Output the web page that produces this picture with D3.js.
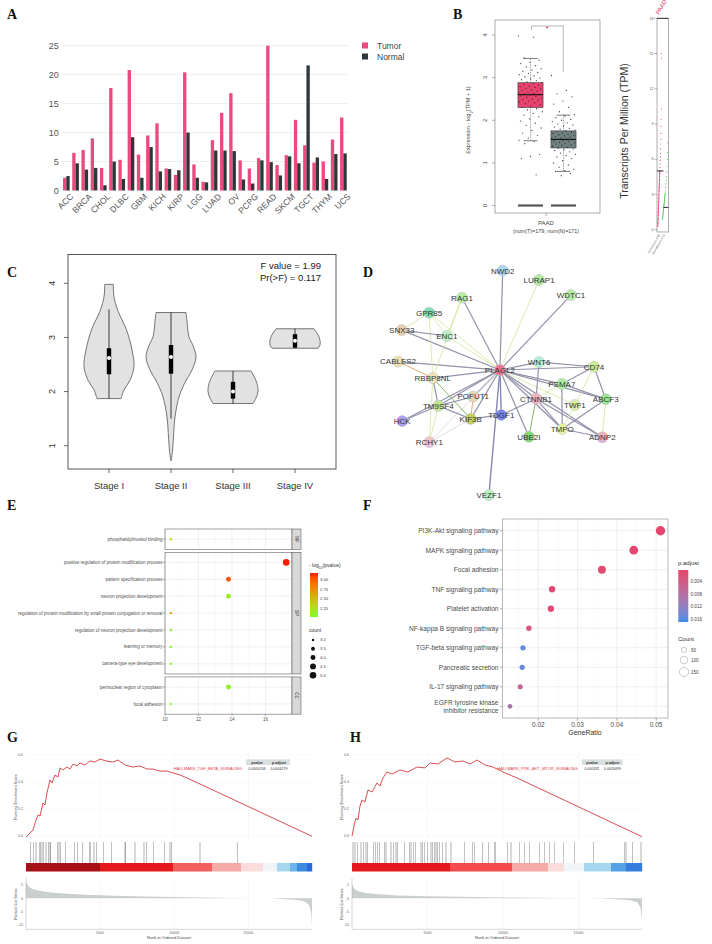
<!DOCTYPE html>
<html>
<head>
<meta charset="utf-8">
<script src="https://cdn.jsdelivr.net/npm/d3@7"></script>
<style>
body { margin: 0; background: #fff; }
svg { display: block; font-family: "Liberation Sans", Arial, sans-serif; }
</style>
</head>
<body>
<svg width="712" height="944"></svg>
<script>
// ---------------- data ----------------
// A: PLAGL2 expression across TCGA
var cancers = ["ACC","BLCA","BRCA","CESC","CHOL","COAD","DLBC","ESCA","GBM","HNSC","KICH","KIRC","KIRP","LAML","LGG","LIHC","LUAD","LUSC","OV","PAAD","PCPG","PRAD","READ","SARC","SKCM","STAD","TGCT","THCA","THYM","UCEC","UCS"];
var tumorTPM = [2.2, 6.5, 7.0, 9.0, 3.9, 17.7, 5.3, 20.8, 6.2, 9.5, 11.6, 3.8, 2.7, 20.4, 4.5, 1.5, 8.7, 13.4, 16.8, 5.2, 3.8, 5.6, 25.0, 4.4, 6.1, 12.2, 7.8, 4.8, 5.0, 8.8, 12.6];
var normalTPM = [2.5, 4.7, 3.6, 3.9, 0.9, 5.0, 2.0, 9.2, 2.2, 7.5, 3.3, 3.7, 3.5, 10.0, 2.2, 1.4, 6.9, 6.9, 6.8, 1.9, 1.2, 5.2, 4.9, 2.6, 5.9, 4.7, 21.6, 5.7, 2.0, 6.3, 6.4];
var yTicksA = [0, 5, 10, 15, 20, 25];

// B: PAAD box plot, log2(TPM+1)   [lower whisker, q1, median, q3, upper whisker]
var tumorBox = [1.52, 2.3, 2.6, 2.88, 3.45];
var normalBox = [0.8, 1.35, 1.55, 1.75, 2.12];
var tumorPts = [3.98, 3.95, 3.46, 3.41, 3.36, 3.33, 3.28, 3.25, 3.21, 3.18, 3.15, 3.12, 3.1, 3.07, 3.04, 3.02, 2.99, 2.97, 2.95, 2.93, 2.9, 2.88, 2.86, 2.84, 2.82, 2.8, 2.79, 2.77, 2.75, 2.73, 2.71, 2.7, 2.68, 2.66, 2.65, 2.63, 2.62, 2.6, 2.59, 2.57, 2.56, 2.54, 2.52, 2.5, 2.49, 2.47, 2.45, 2.43, 2.41, 2.39, 2.36, 2.33, 2.3, 2.27, 2.24, 2.2, 2.16, 2.12, 2.08, 2.03, 1.98, 1.93, 1.88, 1.82, 1.76, 1.7, 1.64, 1.58, 1.53, 1.5, 1.45, 1.2, 1.15, 1.1, 0.72];
var normalPts = [3.05, 2.7, 2.62, 2.55, 2.45, 2.38, 2.3, 2.2, 2.13, 2.1, 2.06, 2.02, 2.0, 1.97, 1.94, 1.91, 1.89, 1.86, 1.84, 1.81, 1.79, 1.77, 1.75, 1.74, 1.72, 1.7, 1.69, 1.67, 1.66, 1.64, 1.63, 1.61, 1.6, 1.58, 1.57, 1.56, 1.55, 1.54, 1.52, 1.51, 1.5, 1.48, 1.47, 1.45, 1.44, 1.42, 1.41, 1.39, 1.37, 1.35, 1.33, 1.31, 1.29, 1.26, 1.23, 1.2, 1.17, 1.14, 1.1, 1.05, 1.0, 0.95, 0.9, 0.85, 0.82, 0.8, 0.75, 0.7];
var yTicksB = [0, 1, 2, 3, 4];
// B right: raw TPM strip
var stripTumorTPM = [0.3, 0.6, 0.9, 1.2, 1.5, 1.8, 2.1, 2.4, 2.7, 3.0, 3.3, 3.6, 3.9, 4.2, 4.5, 4.8, 5.0, 5.3, 5.6, 5.9, 6.2, 6.5, 6.9, 7.3, 7.7, 8.2, 8.8, 9.4, 10.3, 14.6, 15.0];
var stripNormalTPM = [0.9, 1.1, 1.3, 1.5, 1.7, 1.9, 2.1, 2.3, 2.5, 2.7, 2.9, 3.1, 3.3, 3.6, 3.9, 4.2, 4.5, 4.9, 5.4, 6.0, 6.6, 7.4];
var stripMedian = [5.0, 1.9];
var yTicksStrip = [0, 3, 6, 9, 12, 15, 18];

// C: violin by stage  [value, relative density]
var stages = ["Stage I", "Stage II", "Stage III", "Stage IV"];
var violinStage1 = [[1.87,0.48],[2.03,0.6],[2.21,0.84],[2.46,1.0],[2.77,0.92],[3.14,0.7],[3.5,0.35],[3.75,0.2],[3.98,0.17]];
var violinStage2 = [[0.72,0.0],[0.9,0.06],[1.16,0.1],[1.53,0.16],[1.9,0.32],[2.15,0.54],[2.4,0.84],[2.64,1.0],[2.85,0.88],[3.01,0.72],[3.3,0.64],[3.46,0.6]];
var violinStage3 = [[1.78,0.8],[1.88,0.92],[2.0,1.0],[2.15,0.96],[2.28,0.84],[2.38,0.72]];
var violinStage4 = [[2.8,0.92],[2.86,1.0],[2.95,1.0],[3.05,0.92],[3.16,0.76]];
// [whisker low, q1, median, q3, whisker high]
var stageBox = [[1.87, 2.32, 2.62, 2.8, 3.52], [1.5, 2.33, 2.64, 2.86, 3.46], [1.78, 1.87, 2.0, 2.18, 2.38], [2.8, 2.81, 2.94, 3.06, 3.16]];
var yTicksC = [1, 2, 3, 4];

// D: PPI network (layout units 0-100)
var genes  = ["NWD2","LURAP1","WDTC1","RAG1","GPR85","SNX33","ENC1","PLAGL2","WNT6","CD74","CABLES2","RBBP8NL","PSMA7","POFUT1","CTNNB1","ABCF3","TWF1","TM9SF4","HCK","KIF3B","TDGF1","TMPO","UBE2I","ADNP2","RCHY1","VEZF1"];
var geneX  = [49.0, 64.8, 78.7, 31.3, 17.0, 5.1, 24.7, 47.8, 64.8, 88.7, 3.5, 18.6, 74.7, 36.2, 63.5, 93.8, 80.4, 21.0, 5.3, 35.1, 48.4, 74.9, 60.4, 92.3, 17.1, 43.0];
var geneY  = [2.4, 6.4, 12.8, 13.9, 20.3, 27.7, 30.2, 44.7, 41.3, 43.3, 41.1, 48.1, 50.6, 56.0, 56.9, 57.1, 59.6, 59.9, 66.4, 65.5, 63.8, 69.8, 73.1, 73.3, 75.4, 97.9];
// [source, target, evidence type]
var links = [
  ["PLAGL2","NWD2",0],["PLAGL2","LURAP1",1],["PLAGL2","WDTC1",0],["PLAGL2","RAG1",0],["PLAGL2","GPR85",1],
  ["PLAGL2","SNX33",0],["PLAGL2","ENC1",1],["PLAGL2","CABLES2",0],["PLAGL2","RBBP8NL",0],["PLAGL2","WNT6",0],
  ["PLAGL2","CD74",0],["PLAGL2","PSMA7",0],["PLAGL2","ABCF3",0],["PLAGL2","CTNNB1",0],["PLAGL2","TWF1",1],
  ["PLAGL2","TMPO",0],["PLAGL2","ADNP2",0],["PLAGL2","UBE2I",0],["PLAGL2","TDGF1",4],["PLAGL2","VEZF1",4],
  ["PLAGL2","KIF3B",0],["PLAGL2","POFUT1",0],["PLAGL2","TM9SF4",0],["PLAGL2","HCK",0],["PLAGL2","RCHY1",5],
  ["GPR85","ENC1",1],["GPR85","RBBP8NL",1],["GPR85","SNX33",1],["SNX33","ENC1",0],["RAG1","ENC1",1],
  ["RAG1","RBBP8NL",1],["CABLES2","RBBP8NL",3],["RBBP8NL","TM9SF4",0],["RBBP8NL","KIF3B",2],["RBBP8NL","RCHY1",1],
  ["TM9SF4","KIF3B",0],["TM9SF4","POFUT1",0],["HCK","TM9SF4",0],["POFUT1","KIF3B",3],["KIF3B","TDGF1",0],
  ["KIF3B","RCHY1",5],["TDGF1","CTNNB1",0],["CTNNB1","UBE2I",2],["CTNNB1","TMPO",0],["CTNNB1","ADNP2",0],
  ["CTNNB1","WNT6",0],["CTNNB1","PSMA7",1],["CD74","TWF1",1],["CD74","ABCF3",0],["CD74","PSMA7",0],
  ["WNT6","CD74",0],["TWF1","TMPO",1],["TMPO","ADNP2",0],["ABCF3","TMPO",0],["ABCF3","ADNP2",1],
  ["PSMA7","ABCF3",0],["TMPO","PSMA7",0],["TM9SF4","RCHY1",1]
];

// E: GO enrichment
var goTerms = ["phosphatidylinositol binding","positive regulation of protein modification process","pattern specification process","neuron projection development","regulation of protein modification by small protein conjugation or removal","regulation of neuron projection development","learning or memory","camera-type eye development","perinuclear region of cytoplasm","focal adhesion"];
var goOnt = ["MF","BP","BP","BP","BP","BP","BP","BP","CC","CC"];
var goRatio = [10.34, 17.24, 13.79, 13.79, 10.34, 10.34, 10.34, 10.34, 13.79, 10.34];
var goCount = [3, 5, 4, 4, 3, 3, 3, 3, 4, 3];
var goLogP = [2.3, 3.18, 3.04, 2.15, 2.68, 2.06, 2.1, 2.05, 2.12, 2.06];
var ontologies = ["MF", "BP", "CC"];
var xTicksE = [10, 12, 14, 16];

// F: KEGG enrichment
var keggTerms = ["PI3K-Akt signaling pathway","MAPK signaling pathway","Focal adhesion","TNF signaling pathway","Platelet activation","NF-kappa B signaling pathway","TGF-beta signaling pathway","Pancreatic secretion","IL-17 signaling pathway","EGFR tyrosine kinase inhibitor resistance"];
var keggRatio = [0.0511, 0.0443, 0.0362, 0.0235, 0.0232, 0.0176, 0.0161, 0.0159, 0.0154, 0.0128];
var keggCount = [155, 134, 110, 71, 70, 53, 49, 48, 47, 39];
var keggP = [0.0008, 0.0008, 0.001, 0.0012, 0.0015, 0.0035, 0.0155, 0.015, 0.0058, 0.0095];
var xTicksF = [0.02, 0.03, 0.04, 0.05];

// G / H: GSEA
var gseaG_term = "HALLMARK_TGF_BETA_SIGNALING", gseaG_stats = ["0.0000708", "0.0004279"];
var gseaG_esRank = [0, 270, 472, 607, 810, 945, 1147, 1282, 1417, 1620, 1754, 1957, 2159, 2294, 2497, 2767, 2969, 3172, 3441, 3644, 3981, 4319, 4656, 4994, 5398, 5871, 6208, 6681, 7220, 7693, 8165, 8570, 9042, 9515, 9920, 10392, 10864, 19300];
var gseaG_es = [-0.007, 0.022, 0.044, 0.096, 0.156, 0.148, 0.244, 0.23, 0.319, 0.415, 0.393, 0.452, 0.437, 0.504, 0.489, 0.511, 0.496, 0.533, 0.519, 0.541, 0.526, 0.556, 0.548, 0.57, 0.556, 0.548, 0.563, 0.526, 0.511, 0.519, 0.496, 0.496, 0.481, 0.481, 0.467, 0.452, 0.43, -0.002];
var gseaG_hits = [317, 492, 675, 897, 992, 1080, 1167, 1350, 1508, 1620, 1667, 2112, 2227, 2342, 2652, 3286, 3461, 3826, 4271, 4366, 4588, 4770, 5216, 5783, 6681, 6729, 7355, 7962, 8142, 8590, 9332, 9717, 9830, 11742, 14286];
var gseaG_barEdge = [0, 4994, 9920, 12551, 14508, 15992, 16937, 17814, 18286, 18961, 19300];
var gseaG_barLevel = [1.0, 0.8, 0.55, 0.35, 0.15, 0.0, -0.2, -0.4, -0.65, -0.9];
var gseaG_metricRank = [0, 150, 400, 800, 1500, 2500, 4000, 6000, 8000, 10000, 12000, 14000, 15500, 16500, 17500, 18300, 18800, 19100, 19250, 19300];
var gseaG_metric = [6.5, 4.6, 3.6, 2.9, 2.3, 1.8, 1.3, 0.95, 0.7, 0.5, 0.3, 0.15, 0.05, 0, -0.3, -0.6, -1.2, -2.5, -5.5, -10.5];

var gseaH_term = "HALLMARK_PI3K_AKT_MTOR_SIGNALING", gseaH_stats = ["0.000331", "0.0026099"];
var gseaH_esRank = [0, 132, 265, 397, 530, 662, 861, 1059, 1324, 1655, 1854, 2052, 2317, 2648, 3178, 3707, 4303, 4833, 5164, 5693, 6289, 6819, 7348, 7812, 8275, 8805, 9334, 10129, 10923, 19200];
var gseaH_es = [0, 0.074, 0.133, 0.119, 0.222, 0.267, 0.252, 0.341, 0.326, 0.393, 0.37, 0.43, 0.474, 0.459, 0.489, 0.474, 0.511, 0.504, 0.541, 0.533, 0.578, 0.548, 0.556, 0.533, 0.563, 0.526, 0.511, 0.467, 0.43, -0.005];
var gseaH_hits = [66, 199, 377, 596, 748, 927, 1039, 1410, 1542, 1701, 1807, 2138, 2251, 2582, 2734, 2913, 3025, 3462, 3793, 3906, 4058, 4190, 4568, 4680, 4786, 5011, 5230, 5342, 5448, 5561, 5673, 5779, 6004, 6223, 6554, 7434, 7990, 8096, 8652, 9050, 9420, 9487, 10307, 10526, 11075, 11406, 11737, 12399, 12730, 13061, 13392, 13988, 14716, 16001, 18027, 18138, 18582, 19132];
var gseaH_barEdge = [0, 6488, 10592, 12975, 14034, 15358, 17146, 18139, 19200];
var gseaH_barLevel = [0.8, 0.6, 0.35, 0.15, 0.0, -0.2, -0.5, -0.75];
var gseaH_metricRank = [0, 150, 400, 900, 1800, 3000, 5000, 8000, 11000, 14000, 15500, 16500, 17500, 18400, 18900, 19100, 19200];
var gseaH_metric = [5.2, 3.6, 2.7, 2.0, 1.5, 1.1, 0.8, 0.5, 0.3, 0.1, 0.03, -0.05, -0.3, -0.7, -1.5, -3.5, -8.0];
var rankTicks = [5000, 10000, 15000];

// ---------------- drawing ----------------
var svg = d3.select("svg");
svg.append("rect").attr("width", 712).attr("height", 944).attr("fill", "#fff");
var defs = svg.append("defs");

function panelLetter(t, x, y) {
  svg.append("text").attr("x", x).attr("y", y).text(t)
    .style("font", "bold 14px 'Liberation Serif', 'DejaVu Serif', serif")
    .attr("fill", "#111");
}
panelLetter("A", 7, 19);
panelLetter("B", 453, 19);
panelLetter("C", 7, 277);
panelLetter("D", 363, 277);
panelLetter("E", 7, 510);
panelLetter("F", 363, 510);
panelLetter("G", 7, 742);
panelLetter("H", 350, 742);

// ===== A =====
var gA = svg.append("g");
var xA = d3.scaleBand().domain(cancers).range([61.7, 348]).paddingInner(0.28).paddingOuter(0.14);
var xAin = d3.scaleBand().domain(["Tumor", "Normal"]).range([0, xA.bandwidth()]);
var yA = d3.scaleLinear().domain([0, 25]).range([190.5, 45.7]);
var colA = {Tumor: "#ea4a7e", Normal: "#2e3639"};

gA.selectAll(".gridA").data(yTicksA.slice(1)).enter().append("line")
  .attr("x1", 61.7).attr("x2", 348)
  .attr("y1", function(d) { return yA(d); }).attr("y2", function(d) { return yA(d); })
  .attr("stroke", "#eeeeee").attr("stroke-width", 1);

var axA = gA.append("g").attr("transform", "translate(61.7,0)")
  .call(d3.axisLeft(yA).tickValues(yTicksA).tickSize(0).tickPadding(3));
axA.select(".domain").remove();
axA.selectAll("text").style("font-size", "9px").attr("fill", "#555");

var catA = gA.selectAll(".cat").data(cancers).enter().append("g")
  .attr("transform", function(d) { return "translate(" + xA(d) + ",0)"; });
catA.append("rect")
  .attr("x", xAin("Tumor")).attr("width", xAin.bandwidth())
  .attr("y", function(d, i) { return yA(tumorTPM[i]); })
  .attr("height", function(d, i) { return yA(0) - yA(tumorTPM[i]); })
  .attr("fill", colA.Tumor);
catA.append("rect")
  .attr("x", xAin("Normal")).attr("width", xAin.bandwidth())
  .attr("y", function(d, i) { return yA(normalTPM[i]); })
  .attr("height", function(d, i) { return yA(0) - yA(normalTPM[i]); })
  .attr("fill", colA.Normal);

var axAx = gA.append("g").attr("transform", "translate(0,190.5)")
  .call(d3.axisBottom(xA).tickValues(cancers.filter(function(d, i) { return i % 2 === 0; })).tickSize(0).tickPadding(4));
axAx.select(".domain").remove();
axAx.selectAll("text").style("font-size", "8.5px").attr("fill", "#555")
  .attr("text-anchor", "end").attr("dy", "0.3em")
  .attr("transform", "translate(3,2) rotate(-45)");

["Tumor", "Normal"].forEach(function(k, i) {
  gA.append("rect").attr("x", 362).attr("y", 42.5 + i * 11).attr("width", 6).attr("height", 6).attr("fill", colA[k]);
  gA.append("text").attr("x", 377).attr("y", 48.5 + i * 11).text(k).style("font-size", "8.5px").attr("fill", "#444");
});

// ===== B =====
var gB = svg.append("g");
var xB = d3.scaleBand().domain(["Tumor", "Normal"]).range([514, 580]).paddingInner(0.24).paddingOuter(0.12);
var yB = d3.scaleLinear().domain([0, 4]).range([205.5, 35]);
gB.append("rect").attr("x", 495).attr("y", 20).attr("width", 105).attr("height", 193)
  .attr("fill", "none").attr("stroke", "#9a9a9a").attr("stroke-width", 0.8);
yTicksB.forEach(function(t) {
  gB.append("line").attr("x1", 492).attr("x2", 495).attr("y1", yB(t)).attr("y2", yB(t)).attr("stroke", "#777").attr("stroke-width", 0.6);
  gB.append("text").attr("transform", "translate(487," + yB(t) + ") rotate(-90)")
    .attr("text-anchor", "middle").text(t).style("font-size", "6px").attr("fill", "#444");
});
var tB = gB.append("text").attr("transform", "translate(470,120) rotate(-90)").attr("text-anchor", "middle")
  .style("font-size", "5.6px").attr("fill", "#444");
tB.append("tspan").text("Expression - log");
tB.append("tspan").attr("baseline-shift", "sub").style("font-size", "4px").text("2");
tB.append("tspan").text("(TPM + 1)");
gB.append("line").attr("x1", 546).attr("x2", 546).attr("y1", 213).attr("y2", 216).attr("stroke", "#777").attr("stroke-width", 0.6);
gB.append("text").attr("x", 546).attr("y", 225).attr("text-anchor", "middle").text("PAAD").style("font-size", "6px").attr("fill", "#444");
gB.append("text").attr("x", 546).attr("y", 233).attr("text-anchor", "middle").text("(num(T)=179; num(N)=171)").style("font-size", "5.4px").attr("fill", "#444");

var boxDefs = [{k: "Tumor", s: tumorBox, pts: tumorPts, fill: "#e8436f"}, {k: "Normal", s: normalBox, pts: normalPts, fill: "#6f807f"}];
boxDefs.forEach(function(b) {
  var x0 = xB(b.k), w = xB.bandwidth(), cx = x0 + w / 2;
  gB.append("line").attr("x1", x0).attr("x2", x0 + w).attr("y1", yB(0)).attr("y2", yB(0))
    .attr("stroke", "#555").attr("stroke-width", 2.2);
  gB.append("line").attr("x1", cx).attr("x2", cx).attr("y1", yB(b.s[0])).attr("y2", yB(b.s[4]))
    .attr("stroke", "#555").attr("stroke-width", 0.5).attr("stroke-dasharray", "1.5,1");
  [b.s[0], b.s[4]].forEach(function(v) {
    gB.append("line").attr("x1", cx - 7).attr("x2", cx + 7).attr("y1", yB(v)).attr("y2", yB(v))
      .attr("stroke", "#444").attr("stroke-width", 0.7);
  });
  gB.append("rect").attr("x", x0).attr("width", w).attr("y", yB(b.s[3])).attr("height", yB(b.s[1]) - yB(b.s[3]))
    .attr("fill", b.fill).attr("stroke", "#333").attr("stroke-width", 0.6);
  gB.append("line").attr("x1", x0).attr("x2", x0 + w).attr("y1", yB(b.s[2])).attr("y2", yB(b.s[2]))
    .attr("stroke", "#111").attr("stroke-width", 1.1);
  gB.selectAll(".pt" + b.k).data(b.pts).enter().append("circle")
    .attr("cx", function(d, i) { return cx + (((i * 0.618034) % 1) - 0.5) * (w - 1); })
    .attr("cy", function(d) { return yB(d); })
    .attr("r", 0.65).attr("fill", "#222").attr("opacity", 0.85);
});
gB.append("path").attr("d", "M531.5,30V26H563.3V72")
  .attr("fill", "none").attr("stroke", "#999").attr("stroke-width", 0.7);
gB.append("text").attr("x", 547).attr("y", 30.5).attr("text-anchor", "middle").text("*")
  .style("font-size", "8px").attr("fill", "#e0306a");

// right strip
var yS = d3.scaleLinear().domain([0, 18]).range([229.7, 18.3]);
gB.append("text").attr("transform", "translate(628,131) rotate(-90)").attr("text-anchor", "middle")
  .text("Transcripts Per Million (TPM)").style("font-size", "10.5px").attr("fill", "#333");
gB.append("rect").attr("x", 657).attr("y", yS(18)).attr("width", 11.5).attr("height", 232 - yS(18))
  .attr("fill", "none").attr("stroke", "#777").attr("stroke-width", 0.6);
gB.append("line").attr("x1", 657).attr("x2", 668.5).attr("y1", yS(18)).attr("y2", yS(18)).attr("stroke", "#222").attr("stroke-width", 0.9);
yTicksStrip.forEach(function(t) {
  gB.append("line").attr("x1", 654.5).attr("x2", 657).attr("y1", yS(t)).attr("y2", yS(t)).attr("stroke", "#666").attr("stroke-width", 0.5);
  gB.append("text").attr("x", 653.5).attr("y", yS(t)).attr("dy", "0.35em").attr("text-anchor", "end")
    .text(t).style("font-size", "3.6px").attr("fill", "#555");
});
gB.append("text").attr("transform", "translate(659,15) rotate(-60)").text("PAAD")
  .style("font-size", "6px").attr("fill", "#e0306a");
var stripT = stripTumorTPM.slice().sort(d3.ascending), stripN = stripNormalTPM.slice().sort(d3.ascending);
var stripTx = function(d, i) { return 657.8 + 3.8 * i / (stripT.length - 1); };
var stripNx = function(d, i) { return 662.5 + 5.2 * i / (stripN.length - 1); };
gB.append("path").datum(stripT.slice(0, 17))
  .attr("d", d3.line().x(stripTx).y(function(d) { return yS(d); }))
  .attr("fill", "none").attr("stroke", "#e0306a").attr("stroke-width", 0.7);
gB.append("path").datum(stripN.slice(0, 12))
  .attr("d", d3.line().x(stripNx).y(function(d) { return yS(d); }))
  .attr("fill", "none").attr("stroke", "#3fbf3f").attr("stroke-width", 0.7);
gB.selectAll(".stT").data(stripT).enter().append("circle")
  .attr("cx", stripTx).attr("cy", function(d) { return yS(d); }).attr("r", 0.55).attr("fill", "#e0306a");
gB.selectAll(".stN").data(stripN).enter().append("circle")
  .attr("cx", stripNx).attr("cy", function(d) { return yS(d); }).attr("r", 0.55).attr("fill", "#3fbf3f");
gB.append("line").attr("x1", 657).attr("x2", 663.5).attr("y1", yS(stripMedian[0])).attr("y2", yS(stripMedian[0])).attr("stroke", "#111").attr("stroke-width", 0.9);
gB.append("line").attr("x1", 663.5).attr("x2", 668.5).attr("y1", yS(stripMedian[1])).attr("y2", yS(stripMedian[1])).attr("stroke", "#111").attr("stroke-width", 0.9);
["Tumor(num=179)", "Normal(num=171)"].forEach(function(s, i) {
  gB.append("text").attr("transform", "translate(" + (660 + i * 5) + ",235) rotate(-60)").attr("text-anchor", "end")
    .text(s).style("font-size", "2.8px").attr("fill", "#444");
});

// ===== C =====
var gC = svg.append("g");
var xC = d3.scalePoint().domain(stages).range([109, 295]);
var yC = d3.scaleLinear().domain([1, 4]).range([445.7, 283.3]);
var wC = d3.scaleLinear().domain([0, 1]).range([0, 25]);
var violins = [violinStage1, violinStage2, violinStage3, violinStage4];
gC.append("rect").attr("x", 68).attr("y", 254.5).attr("width", 268).attr("height", 214.5)
  .attr("fill", "none").attr("stroke", "#444").attr("stroke-width", 0.9);
stages.forEach(function(s, i) {
  var cx = xC(s);
  var area = d3.area().curve(d3.curveCatmullRom)
    .y(function(d) { return yC(d[0]); })
    .x0(function(d) { return cx - wC(d[1]); })
    .x1(function(d) { return cx + wC(d[1]); });
  gC.append("path").datum(violins[i]).attr("d", area)
    .attr("fill", "#e2e2e2").attr("stroke", "#555").attr("stroke-width", 0.8);
  var b = stageBox[i];
  gC.append("line").attr("x1", cx).attr("x2", cx).attr("y1", yC(b[0])).attr("y2", yC(b[4])).attr("stroke", "#111").attr("stroke-width", 0.8);
  gC.append("rect").attr("x", cx - 2.2).attr("width", 4.4).attr("y", yC(b[3])).attr("height", yC(b[1]) - yC(b[3])).attr("fill", "#000");
  gC.append("circle").attr("cx", cx).attr("cy", yC(b[2])).attr("r", 2).attr("fill", "#fff");
  gC.append("line").attr("x1", cx).attr("x2", cx).attr("y1", 469).attr("y2", 473).attr("stroke", "#444").attr("stroke-width", 0.8);
  gC.append("text").attr("x", cx).attr("y", 489).attr("text-anchor", "middle").text(s)
    .style("font-size", "9.5px").attr("fill", "#333");
});
yTicksC.forEach(function(t) {
  gC.append("line").attr("x1", 64).attr("x2", 68).attr("y1", yC(t)).attr("y2", yC(t)).attr("stroke", "#444").attr("stroke-width", 0.8);
  gC.append("text").attr("transform", "translate(55," + yC(t) + ") rotate(-90)").attr("text-anchor", "middle")
    .text(t).style("font-size", "9px").attr("fill", "#333");
});
gC.append("text").attr("x", 321).attr("y", 268.5).attr("text-anchor", "end").text("F value = 1.99").style("font-size", "9.5px").attr("fill", "#222");
gC.append("text").attr("x", 321).attr("y", 280.5).attr("text-anchor", "end").text("Pr(>F) = 0.117").style("font-size", "9.5px").attr("fill", "#222");

// ===== D =====
var gD = svg.append("g");
var xD = d3.scaleLinear().domain([0, 100]).range([390, 620]);
var yD = d3.scaleLinear().domain([0, 100]).range([265, 500]);
var nodeFill = {NWD2: "#a9d6f2", LURAP1: "#b2eba2", WDTC1: "#b5eda8", RAG1: "#b8eea6", GPR85: "#7fdfb0", SNX33: "#e4cfb0",
  ENC1: "#baf1c4", PLAGL2: "#f07694", WNT6: "#b3f1da", CD74: "#c9ef92", CABLES2: "#efe2b2", RBBP8NL: "#f1e3b6",
  PSMA7: "#a9eea3", POFUT1: "#f1d1b5", CTNNB1: "#f1b3c4", ABCF3: "#9be693", TWF1: "#d8f0a4", TM9SF4: "#c2e893",
  HCK: "#aaa2f0", KIF3B: "#c7cf55", TDGF1: "#7483ef", TMPO: "#e8f0b4", UBE2I: "#84d873", ADNP2: "#e0b2d8",
  RCHY1: "#f1c4c4", VEZF1: "#bbf0c3"};
var linkColor = ["#9292aa", "#d2e69c", "#6fae55", "#e0a46a", "#8686b8", "#d6d6e0"];
var linkWidth = [1.2, 0.8, 0.9, 0.9, 1.4, 0.8];
var gIdx = {};
genes.forEach(function(g, i) { gIdx[g] = i; });
gD.selectAll(".link").data(links).enter().append("line")
  .attr("x1", function(d) { return xD(geneX[gIdx[d[0]]]); })
  .attr("y1", function(d) { return yD(geneY[gIdx[d[0]]]); })
  .attr("x2", function(d) { return xD(geneX[gIdx[d[1]]]); })
  .attr("y2", function(d) { return yD(geneY[gIdx[d[1]]]); })
  .attr("stroke", function(d) { return linkColor[d[2]]; })
  .attr("stroke-width", function(d) { return linkWidth[d[2]]; });
var node = gD.selectAll(".node").data(genes).enter().append("g")
  .attr("transform", function(d, i) { return "translate(" + xD(geneX[i]) + "," + yD(geneY[i]) + ")"; });
node.append("circle").attr("r", 5.5).attr("fill", function(d) { return nodeFill[d]; })
  .attr("stroke", "#bbbbbb").attr("stroke-width", 0.5);
node.append("text").attr("text-anchor", "middle").attr("dy", "0.36em").text(function(d) { return d; })
  .style("font-size", "8px").attr("fill", "#333");

// ===== E =====
var gE = svg.append("g");
var extE = d3.extent(goRatio), padE = (extE[1] - extE[0]) * 0.05;
var xE = d3.scaleLinear().domain([extE[0] - padE, extE[1] + padE]).range([165, 292]);
var colorE = d3.scaleLinear().domain([2.03, 3.18]).range(["#7cff2a", "#ff1a00"]).interpolate(d3.interpolateLab);
var areaE = d3.scaleLinear().domain([3, 5]).range([1.44, 10.9]);
function rE(c) { return Math.sqrt(areaE(c)); }
var stepE = 16.9, topE = 529;
ontologies.forEach(function(ont) {
  var terms = goTerms.filter(function(t, i) { return goOnt[i] === ont; });
  var h = (terms.length - 1 + 1.2) * stepE;
  var yE = d3.scalePoint().domain(terms).range([topE, topE + h]).padding(0.6);
  var p = gE.append("g");
  p.append("rect").attr("x", 165).attr("y", topE).attr("width", 127).attr("height", h).attr("fill", "#fff");
  [11, 13, 15, 17].forEach(function(v) {
    p.append("line").attr("x1", xE(v)).attr("x2", xE(v)).attr("y1", topE).attr("y2", topE + h).attr("stroke", "#f3f3f3").attr("stroke-width", 0.4);
  });
  xTicksE.forEach(function(v) {
    p.append("line").attr("x1", xE(v)).attr("x2", xE(v)).attr("y1", topE).attr("y2", topE + h).attr("stroke", "#e6e6e6").attr("stroke-width", 0.6);
  });
  terms.forEach(function(t) {
    p.append("line").attr("x1", 165).attr("x2", 292).attr("y1", yE(t)).attr("y2", yE(t)).attr("stroke", "#e6e6e6").attr("stroke-width", 0.6);
    p.append("line").attr("x1", 163).attr("x2", 165).attr("y1", yE(t)).attr("y2", yE(t)).attr("stroke", "#444").attr("stroke-width", 0.4);
    p.append("text").attr("x", 162.5).attr("y", yE(t)).attr("dy", "0.35em").attr("text-anchor", "end").text(t)
      .style("font-size", "4.5px").attr("fill", "#4d4d4d");
  });
  p.append("rect").attr("x", 165).attr("y", topE).attr("width", 127).attr("height", h).attr("fill", "none").attr("stroke", "#444").attr("stroke-width", 0.5);
  p.append("rect").attr("x", 292).attr("y", topE).attr("width", 9).attr("height", h).attr("fill", "#d9d9d9").attr("stroke", "#444").attr("stroke-width", 0.5);
  p.append("text").attr("transform", "translate(296.5," + (topE + h / 2) + ") rotate(90)").attr("text-anchor", "middle").attr("dy", "0.35em")
    .text(ont).style("font-size", "4.5px").attr("fill", "#333");
  goTerms.forEach(function(t, i) {
    if (goOnt[i] !== ont) return;
    p.append("circle").attr("cx", xE(goRatio[i])).attr("cy", yE(t)).attr("r", rE(goCount[i])).attr("fill", colorE(goLogP[i]));
  });
  topE += h + 3;
});
var botE = topE - 3;
xTicksE.forEach(function(v) {
  gE.append("line").attr("x1", xE(v)).attr("x2", xE(v)).attr("y1", botE).attr("y2", botE + 2).attr("stroke", "#444").attr("stroke-width", 0.4);
  gE.append("text").attr("x", xE(v)).attr("y", botE + 6.5).attr("text-anchor", "middle").text(v).style("font-size", "4.5px").attr("fill", "#4d4d4d");
});
// E legends
var gradE = defs.append("linearGradient").attr("id", "gradE").attr("x1", 0).attr("x2", 0).attr("y1", 1).attr("y2", 0);
d3.range(0, 1.01, 0.1).forEach(function(f) {
  gradE.append("stop").attr("offset", f).attr("stop-color", colorE(2.03 + f * (3.18 - 2.03)));
});
var tE = gE.append("text").attr("x", 309).attr("y", 567).style("font-size", "5px").attr("fill", "#333");
tE.append("tspan").text("- log");
tE.append("tspan").attr("baseline-shift", "sub").style("font-size", "3.5px").text("10");
tE.append("tspan").text("(pvalue)");
var yLegE = d3.scaleLinear().domain([2.03, 3.18]).range([617, 573]);
gE.append("rect").attr("x", 310).attr("y", 573).attr("width", 8).attr("height", 44).attr("fill", "url(#gradE)");
[2.25, 2.5, 2.75, 3.0].forEach(function(v) {
  gE.append("text").attr("x", 320).attr("y", yLegE(v)).attr("dy", "0.35em").text(v.toFixed(2)).style("font-size", "4.2px").attr("fill", "#444");
});
gE.append("text").attr("x", 309).attr("y", 631.5).text("count").style("font-size", "5px").attr("fill", "#333");
[3.0, 3.5, 4.0, 4.5, 5.0].forEach(function(v, i) {
  gE.append("circle").attr("cx", 313).attr("cy", 640 + i * 8.8).attr("r", rE(v)).attr("fill", "#111");
  gE.append("text").attr("x", 320).attr("y", 640 + i * 8.8).attr("dy", "0.35em").text(v.toFixed(1)).style("font-size", "4.2px").attr("fill", "#444");
});

// ===== F =====
var gF = svg.append("g");
var extF = d3.extent(keggRatio), padF = (extF[1] - extF[0]) * 0.05;
var xF = d3.scaleLinear().domain([extF[0] - padF, extF[1] + padF]).range([502.5, 668]);
var yF = d3.scalePoint().domain(keggTerms).range([519, 718]).padding(0.6);
var colorF = d3.scaleLinear().domain([0.0004, 0.0168]).range(["#e7426b", "#3d8fe8"]).interpolate(d3.interpolateLab);
var sizeF = d3.scaleSqrt().domain([0, 150]).range([0, 4.6]);
[0.015, 0.025, 0.035, 0.045].forEach(function(v) {
  gF.append("line").attr("x1", xF(v)).attr("x2", xF(v)).attr("y1", 519).attr("y2", 718).attr("stroke", "#f4f4f4").attr("stroke-width", 0.5);
});
xTicksF.forEach(function(v) {
  gF.append("line").attr("x1", xF(v)).attr("x2", xF(v)).attr("y1", 519).attr("y2", 718).attr("stroke", "#e8e8e8").attr("stroke-width", 0.7);
  gF.append("line").attr("x1", xF(v)).attr("x2", xF(v)).attr("y1", 718).attr("y2", 720.5).attr("stroke", "#555").attr("stroke-width", 0.5);
  gF.append("text").attr("x", xF(v)).attr("y", 727).attr("text-anchor", "middle").text(v).style("font-size", "6.5px").attr("fill", "#4d4d4d");
});
keggTerms.forEach(function(t) {
  gF.append("line").attr("x1", 502.5).attr("x2", 668).attr("y1", yF(t)).attr("y2", yF(t)).attr("stroke", "#e8e8e8").attr("stroke-width", 0.7);
  gF.append("line").attr("x1", 500).attr("x2", 502.5).attr("y1", yF(t)).attr("y2", yF(t)).attr("stroke", "#555").attr("stroke-width", 0.5);
});
gF.append("rect").attr("x", 502.5).attr("y", 519).attr("width", 165.5).attr("height", 199).attr("fill", "none").attr("stroke", "#9a9a9a").attr("stroke-width", 0.7);
keggTerms.forEach(function(t, i) {
  var lines = t === "EGFR tyrosine kinase inhibitor resistance" ? ["EGFR tyrosine kinase", "inhibitor resistance"] : [t];
  var tx = gF.append("text").attr("x", 498.5).attr("y", yF(t)).attr("text-anchor", "end").style("font-size", "6.6px").attr("fill", "#4d4d4d");
  lines.forEach(function(l, j) {
    tx.append("tspan").attr("x", 498.5).attr("dy", j === 0 ? (lines.length > 1 ? "-0.25em" : "0.35em") : "1.2em").text(l);
  });
  gF.append("circle").attr("cx", xF(keggRatio[i])).attr("cy", yF(t)).attr("r", sizeF(keggCount[i])).attr("fill", colorF(keggP[i]));
});
gF.append("text").attr("x", 585).attr("y", 735).attr("text-anchor", "middle").text("GeneRatio").style("font-size", "7px").attr("fill", "#333");
var gradF = defs.append("linearGradient").attr("id", "gradF").attr("x1", 0).attr("x2", 0).attr("y1", 0).attr("y2", 1);
d3.range(0, 1.01, 0.1).forEach(function(f) {
  gradF.append("stop").attr("offset", f).attr("stop-color", colorF(0.0004 + f * (0.0168 - 0.0004)));
});
var yLegF = d3.scaleLinear().domain([0.0004, 0.0168]).range([570, 622]);
gF.append("text").attr("x", 678).attr("y", 565).text("p.adjust").style("font-size", "6px").attr("fill", "#333");
gF.append("rect").attr("x", 678.3).attr("y", 570).attr("width", 10).attr("height", 52).attr("fill", "url(#gradF)");
[0.004, 0.008, 0.012, 0.016].forEach(function(v) {
  gF.append("text").attr("x", 690.5).attr("y", yLegF(v)).attr("dy", "0.35em").text(v.toFixed(3)).style("font-size", "4.6px").attr("fill", "#444");
});
gF.append("text").attr("x", 678).attr("y", 641).text("Count").style("font-size", "6px").attr("fill", "#333");
[50, 100, 150].forEach(function(v, i) {
  var cy = [650, 660, 672][i];
  gF.append("circle").attr("cx", 684).attr("cy", cy).attr("r", sizeF(v)).attr("fill", "none").attr("stroke", "#999").attr("stroke-width", 0.5);
  gF.append("text").attr("x", 691).attr("y", cy).attr("dy", "0.35em").text(v).style("font-size", "4.6px").attr("fill", "#444");
});

// ===== G / H =====
var barColor = d3.scaleLinear()
  .domain([-1, -0.55, -0.3, -0.1, 0, 0.15, 0.35, 0.6, 0.8, 1])
  .range(["#1c5ed6", "#4797e4", "#86c8ee", "#c4e8f2", "#f1f4f8", "#fbdcdc", "#f7a9a9", "#f24b4d", "#e3191d", "#a50f15"]);

function drawGsea(o) {
  var x = d3.scaleLinear().domain([0, o.maxRank]).range([o.x0, o.x1]);
  var yEs = d3.scaleLinear().domain([0, 0.6]).range([836, 755]);
  var yM = d3.scaleLinear().domain([-10, 5]).range([925, 885]);
  var g = svg.append("g");
  rankTicks.forEach(function(r) {
    g.append("line").attr("x1", x(r)).attr("x2", x(r)).attr("y1", 751).attr("y2", 840).attr("stroke", "#ececec").attr("stroke-width", 0.5);
    g.append("line").attr("x1", x(r)).attr("x2", x(r)).attr("y1", 878).attr("y2", 929.3).attr("stroke", "#ececec").attr("stroke-width", 0.5);
    g.append("text").attr("x", x(r)).attr("y", 934).attr("text-anchor", "middle").text(r).style("font-size", "3.6px").attr("fill", "#666");
  });
  [0, 0.2, 0.4, 0.6].forEach(function(v) {
    g.append("line").attr("x1", o.x0).attr("x2", o.x1).attr("y1", yEs(v)).attr("y2", yEs(v)).attr("stroke", "#f0f0f0").attr("stroke-width", 0.5);
    g.append("text").attr("x", o.x0 - 3).attr("y", yEs(v)).attr("dy", "0.35em").attr("text-anchor", "end")
      .text(v.toFixed(1)).style("font-size", "3.6px").attr("fill", "#666");
  });
  g.append("path").datum(d3.zip(o.esRank, o.es))
    .attr("d", d3.line().x(function(d) { return x(d[0]); }).y(function(d) { return yEs(d[1]); }))
    .attr("fill", "none").attr("stroke", "#d33a3d").attr("stroke-width", 0.9);
  g.selectAll(".hit").data(o.hits).enter().append("line")
    .attr("x1", function(d) { return x(d); }).attr("x2", function(d) { return x(d); })
    .attr("y1", 842).attr("y2", 863).attr("stroke", "#333").attr("stroke-width", 0.5).attr("opacity", 0.75);
  o.barLevel.forEach(function(v, i) {
    g.append("rect").attr("x", x(o.barEdge[i])).attr("width", x(o.barEdge[i + 1]) - x(o.barEdge[i]) + 0.2)
      .attr("y", 863).attr("height", 8.5).attr("fill", barColor(v));
  });
  g.append("path").datum(d3.zip(o.metricRank, o.metric))
    .attr("d", d3.area().x(function(d) { return x(d[0]); }).y0(yM(0)).y1(function(d) { return yM(d[1]); }))
    .attr("fill", "#c9cece");
  g.append("line").attr("x1", o.x0).attr("x2", o.x0).attr("y1", 878).attr("y2", 929.3).attr("stroke", "#aaa").attr("stroke-width", 0.5);
  g.append("line").attr("x1", o.x0).attr("x2", o.x1).attr("y1", 929.3).attr("y2", 929.3).attr("stroke", "#aaa").attr("stroke-width", 0.5);
  [5, 0, -5, -10].forEach(function(v) {
    g.append("text").attr("x", o.x0 - 3).attr("y", yM(v)).attr("dy", "0.35em").attr("text-anchor", "end")
      .text(v).style("font-size", "3.6px").attr("fill", "#666");
  });
  g.append("text").attr("x", (o.x0 + o.x1) / 2).attr("y", 938.5).attr("text-anchor", "middle")
    .text("Rank in Ordered Dataset").style("font-size", "4px").attr("fill", "#444");
  g.append("text").attr("transform", "translate(" + (o.x0 - 9) + ",797) rotate(-90)").attr("text-anchor", "middle")
    .text("Running Enrichment Score").style("font-size", "3.8px").attr("fill", "#444");
  g.append("text").attr("transform", "translate(" + (o.x0 - 9) + ",904) rotate(-90)").attr("text-anchor", "middle")
    .text("Ranked List Metric").style("font-size", "3.8px").attr("fill", "#444");
  // table
  var tw = o.tableW;
  g.append("rect").attr("x", o.tableX).attr("y", 759.3).attr("width", tw).attr("height", 5.7).attr("fill", "#d9dede");
  ["pvalue", "p.adjust"].forEach(function(h, i) {
    g.append("text").attr("x", o.tableX + tw * (0.25 + i * 0.5)).attr("y", 763.5).attr("text-anchor", "middle")
      .text(h).style("font-size", "3.6px").style("font-weight", "bold").attr("fill", "#333");
    g.append("text").attr("x", o.tableX + tw * (0.25 + i * 0.5)).attr("y", 770).attr("text-anchor", "middle")
      .text(o.stats[i]).style("font-size", "3.6px").attr("fill", "#333");
  });
  g.append("text").attr("x", o.tableX - 4).attr("y", 770).attr("text-anchor", "end")
    .text(o.term).style("font-size", "4px").attr("fill", "#e0393c");
}

drawGsea({x0: 26, x1: 312, maxRank: 19300, esRank: gseaG_esRank, es: gseaG_es, hits: gseaG_hits,
  barEdge: gseaG_barEdge, barLevel: gseaG_barLevel, metricRank: gseaG_metricRank, metric: gseaG_metric,
  term: gseaG_term, stats: gseaG_stats, tableX: 246, tableW: 44});
drawGsea({x0: 352, x1: 642, maxRank: 19200, esRank: gseaH_esRank, es: gseaH_es, hits: gseaH_hits,
  barEdge: gseaH_barEdge, barLevel: gseaH_barLevel, metricRank: gseaH_metricRank, metric: gseaH_metric,
  term: gseaH_term, stats: gseaH_stats, tableX: 581.7, tableW: 41});
</script>
</body>
</html>
